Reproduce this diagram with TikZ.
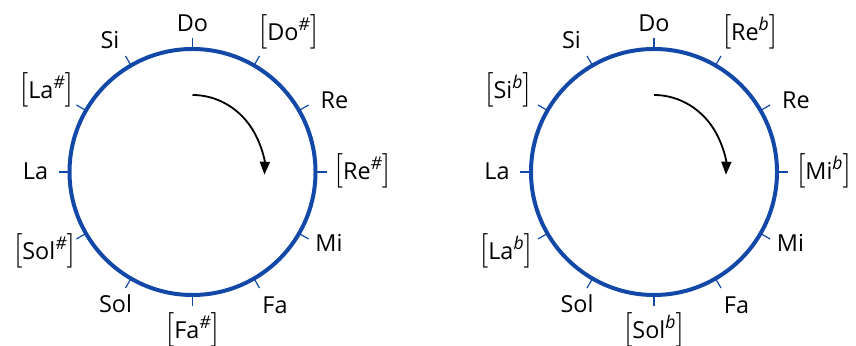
\documentclass[tikz,border=0pt]{standalone}
\usepackage{fontspec}
\setmainfont{Open Sans}
\usetikzlibrary{arrows.meta}
\definecolor{wheelblue}{RGB}{18,72,168}
\newcommand{\bigbr}[1]{{\fontsize{17}{17}\selectfont$#1$}}
\newcommand{\altnote}[2]{\bigbr{[}#1\raisebox{0.45em}{\fontsize{8.8}{9}\selectfont\itshape#2}\bigbr{]}}
\tikzset{
  wheel/.style={draw=wheelblue,line width=2pt},
  notch/.style={draw=wheelblue,line width=0.6pt},
  spin/.style={-{Triangle[length=6.5pt,width=5pt]},line width=0.9pt},
  notename/.style={inner sep=0pt,font=\fontsize{11.7}{14}\selectfont}
}
\begin{document}
\begin{tikzpicture}[x=0.5pt,y=0.5pt]
\useasboundingbox (0,0) rectangle (856,346);
\begin{scope}[shift={(192.5,174)}]
\draw[wheel] (0,0) circle (123);
\foreach \a in {0,30,...,330}
  \draw[notch] (\a:123) -- (\a:134);
\coordinate (sharp-start) at (0,77);
\draw[spin] (sharp-start) arc[start angle=90,end angle=-2,x radius=72,y radius=77];
\foreach \x/\y/\txt [count=\i] in {0/149/Do, 96/140/{\altnote{Do}{\#}}, 142/72/Re,
    170/1/{\altnote{Re}{\#}}, 136.5/-71/Mi, 82.5/-133/Fa,
    0/-158/{\altnote{Fa}{\#}}, -77/-132/Sol, -148/-79/{\altnote{Sol}{\#}},
    -157/1/La, -146/82/{\altnote{La}{\#}}, -82.5/132/Si}
  \node[notename] (sharp-\i) at (\x,\y) {\txt};
\end{scope}
\begin{scope}[shift={(654,174)}]
\draw[wheel] (0,0) circle (123);
\foreach \a in {0,30,...,330}
  \draw[notch] (\a:123) -- (\a:134);
\coordinate (flat-start) at (0,77);
\draw[spin] (flat-start) arc[start angle=90,end angle=-2,x radius=72,y radius=77];
\foreach \x/\y/\txt [count=\i] in {0/149/Do, 96/140/{\altnote{Re}{b}}, 142/72/Re,
    170/1/{\altnote{Mi}{b}}, 136.5/-71/Mi, 82.5/-133/Fa,
    0/-158/{\altnote{Sol}{b}}, -77/-132/Sol, -148/-79/{\altnote{La}{b}},
    -157/1/La, -146/82/{\altnote{Si}{b}}, -82.5/132/Si}
  \node[notename] (flat-\i) at (\x,\y) {\txt};
\end{scope}
\end{tikzpicture}
\end{document}
